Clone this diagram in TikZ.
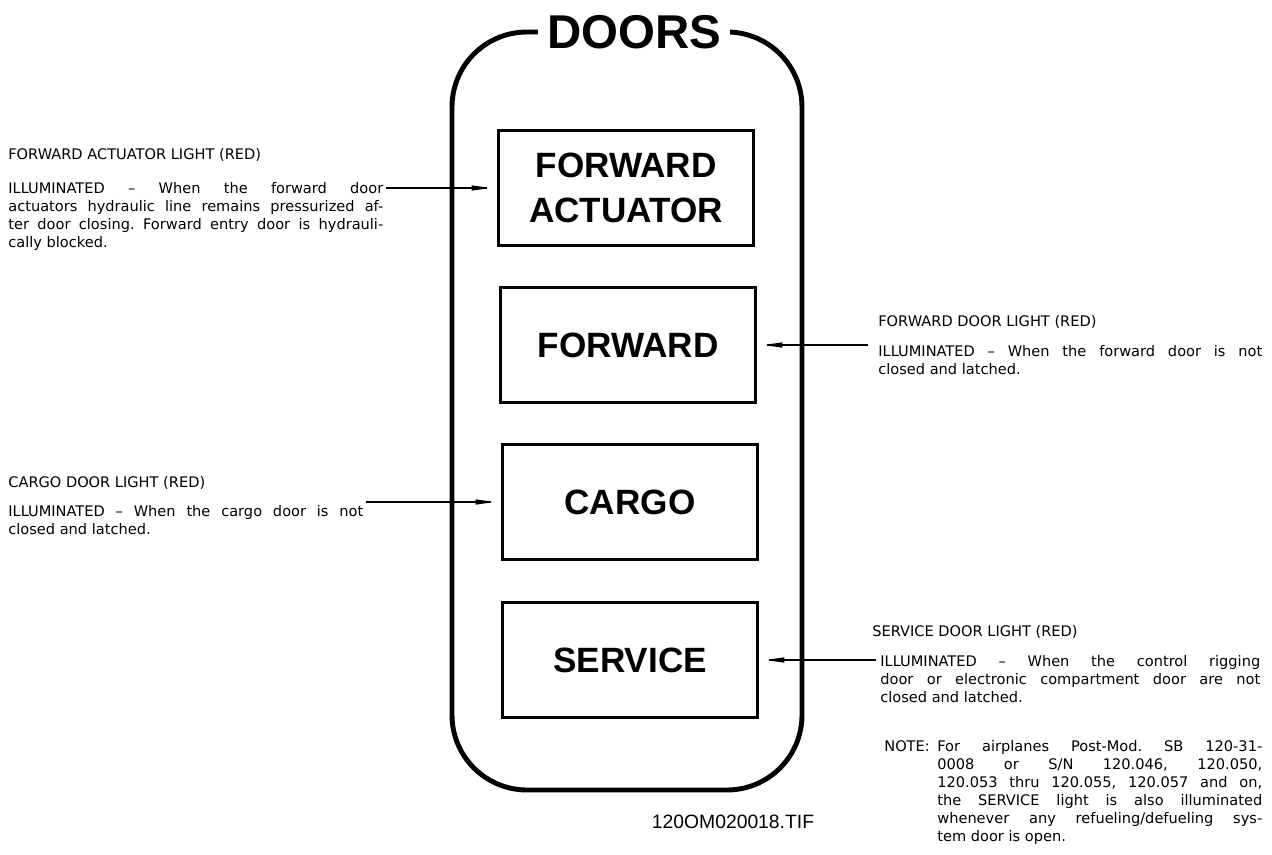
\documentclass[tikz,border=0pt]{standalone}
\usepackage{fontspec}
\setmainfont{Liberation Sans}
\newfontfamily\notefont{DejaVu Sans}
\usetikzlibrary{arrows.meta, positioning}
\tikzset{
  >=Stealth,
  leader/.style={-{Latex[length=5mm, width=1.1mm]}, line width=0.8pt, black}
}

\begin{document}
\frenchspacing
\begin{tikzpicture}[x=0.02cm, y=-0.02cm,
    panel/.style={draw=black, line width=2.8pt, rounded corners=1.5cm},
    lampbox/.style={rectangle, draw=black, line width=2.2pt, minimum width=5.1cm, minimum height=2.3cm, font=\fontsize{20}{25.5}\selectfont\bfseries, align=center},
    headtxt/.style={anchor=west, inner sep=0pt, font=\notefont\fontsize{8.3}{10}\selectfont},
    bodytxt/.style={anchor=north west, inner sep=0pt, text width=7.5cm, align=justify, font=\notefont\fontsize{8.3}{10.2}\selectfont}
]
    % page size 1272 x 855 (1 unit = 1 px of the reference)
    \useasboundingbox (0, 0) rectangle (1272, 855);

    % Panel frame, title cuts the top edge
    \draw[panel] (452, 32) rectangle (802, 790);
    \node[fill=white, inner xsep=5pt, inner ysep=0pt, font=\fontsize{27}{27}\selectfont\bfseries] (title) at (634, 32) {DOORS};

    % 4 lamps at y = 188, 345, 502, 660
    \node[lampbox] (fa) at (626, 188) {FORWARD\\ACTUATOR};
    \node[lampbox] (fd) at (628, 345) {FORWARD};
    \node[lampbox] (cg) at (630, 502) {CARGO};
    \node[lampbox] (sv) at (630, 660) {SERVICE};

    % Left texts
    \node[headtxt] (fa_head) at (8, 155) {FORWARD ACTUATOR LIGHT (RED)};
    \node[bodytxt] (fa_body) at (8, 182) {ILLUMINATED \textendash{} When the forward door\linebreak actuators hydraulic line remains pressurized af-\linebreak ter door closing. Forward entry door is hydrauli-\linebreak cally blocked.};

    \node[headtxt] (cg_head) at (8, 483) {CARGO DOOR LIGHT (RED)};
    \node[bodytxt, text width=7.1cm] (cg_body) at (8, 505) {ILLUMINATED \textendash{} When the cargo door is not\linebreak closed and latched.};

    % Right texts
    \node[headtxt] (fd_head) at (878, 322) {FORWARD DOOR LIGHT (RED)};
    \node[bodytxt, text width=7.68cm] (fd_body) at (878, 345) {ILLUMINATED \textendash{} When the forward door is not\linebreak closed and latched.};

    \node[headtxt] (sv_head) at (872, 632) {SERVICE DOOR LIGHT (RED)};
    \node[bodytxt, text width=7.6cm] (sv_body) at (880, 655) {ILLUMINATED \textendash{} When the control rigging\linebreak door or electronic compartment door are not\linebreak closed and latched.};

    \node[headtxt, anchor=north west] (note_head) at (884, 740) {NOTE:};
    \node[bodytxt, text width=6.5cm] (note_body) at (937, 740) {For airplanes Post-Mod. SB 120-31-\linebreak 0008 or S/N 120.046, 120.050,\linebreak 120.053 thru 120.055, 120.057 and on,\linebreak the SERVICE light is also illuminated\linebreak whenever any refueling/defueling sys-\linebreak tem door is open.};

    % Figure reference
    \node[font=\fontsize{11}{13}\selectfont] (figref) at (733, 822) {120OM020018.TIF};

    % Leader lines
    \coordinate (fa_end) at (386, 188);
    \coordinate (fd_end) at (868, 345);
    \coordinate (cg_end) at (366, 502);
    \coordinate (sv_end) at (876, 660);
    \draw[leader] (fa_end) -- (fa.west);
    \draw[leader] (fd_end) -- (fd.east);
    \draw[leader] (cg_end) -- (cg.west);
    \draw[leader] (sv_end) -- (sv.east);
\end{tikzpicture}
\end{document}
